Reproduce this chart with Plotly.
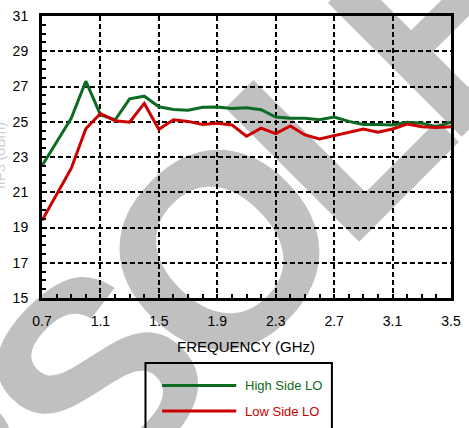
import math
import plotly.graph_objects as go

# Frequency sweep (GHz) and measured IIP3 (dBm)
freq_ghz = [0.7, 0.9, 1.0, 1.1, 1.2, 1.3, 1.4, 1.5, 1.6, 1.7, 1.8, 1.9, 2.0, 2.1,
            2.2, 2.3, 2.4, 2.5, 2.6, 2.7, 2.8, 2.9, 3.0, 3.1, 3.2, 3.3, 3.4, 3.5]
high_side_lo = [22.5, 25.2, 27.3, 25.4, 25.1, 26.3, 26.45, 25.85, 25.7, 25.65,
                25.82, 25.83, 25.75, 25.8, 25.68, 25.27, 25.2, 25.2, 25.12, 25.27,
                25.02, 24.84, 24.84, 24.82, 24.97, 24.91, 24.72, 24.97]
low_side_lo = [19.4, 22.35, 24.6, 25.47, 25.06, 24.97, 26.04, 24.57, 25.11, 25.02,
               24.84, 24.91, 24.82, 24.18, 24.64, 24.33, 24.76, 24.25, 24.02, 24.21,
               24.4, 24.59, 24.4, 24.59, 24.87, 24.72, 24.68, 24.72]

series_names = ["High Side LO", "Low Side LO"]
series_colors = ["#0b6b22", "#cc0000"]
x_title = "FREQUENCY (GHz)"
y_title = "IIP3 (dBm)"
watermark = "OBSOLETE"

W, H = 469, 428
ML, MR, MT, MB = 42, 8, 16, 130
PW, PH = W - ML - MR, H - MT - MB


def px(x):
    """pixel column -> paper x"""
    return (x - ML) / PW


def py(y):
    """pixel row (from top) -> paper y"""
    return (H - MB - y) / PH


fig = go.Figure()
for name, vals, col in zip(series_names, [high_side_lo, low_side_lo], series_colors):
    fig.add_trace(go.Scatter(x=freq_ghz, y=vals, name=name, mode="lines",
                             line=dict(color=col, width=3), showlegend=False))

font_family = "Liberation Sans, Arial, sans-serif"
shapes = []

# Diagonal watermark, set letter by letter (tight tracking) along a 45-degree
# baseline and drawn underneath the grid and the curves.
WM_SIZE = 275
WM_TRACK = -0.07
WM_ADV = {"O": 0.778, "B": 0.722, "S": 0.667, "L": 0.611, "E": 0.667, "T": 0.611}
wm_anchor_idx, wm_anchor_xy = 3, (205, 231)   # centre of the second "O"
centres, acc = [], 0.0
for ch in watermark:
    centres.append(acc + WM_ADV[ch] / 2)
    acc += WM_ADV[ch] + WM_TRACK
ux, uy = math.cos(math.radians(45)), -math.sin(math.radians(45))
for ch, c in zip(watermark, centres):
    d = (c - centres[wm_anchor_idx]) * WM_SIZE
    cx, cy = wm_anchor_xy[0] + d * ux, wm_anchor_xy[1] + d * uy
    shapes.append(dict(
        type="rect", xref="paper", yref="paper", layer="below",
        x0=px(cx) - 0.005, x1=px(cx) + 0.005, y0=py(cy) - 0.005, y1=py(cy) + 0.005,
        line=dict(width=0), fillcolor="rgba(0,0,0,0)",
        label=dict(text=ch, textangle=-45, textposition="middle center",
                   font=dict(size=WM_SIZE, color="#c0c0c0", family=font_family,
                             weight="bold"))))

# legend frame
shapes.append(dict(type="rect", xref="paper", yref="paper",
                   x0=px(148), x1=px(339), y0=py(440), y1=py(363),
                   line=dict(color="black", width=2), fillcolor="rgba(0,0,0,0)"))

annotations = [
    dict(text=x_title, xref="paper", yref="paper", x=px(251), y=py(346),
         showarrow=False, font=dict(size=15, color="black", family=font_family),
         xanchor="center", yanchor="middle"),
    dict(text=y_title, xref="paper", yref="paper", x=px(-1), y=py(156),
         showarrow=False, textangle=-90,
         font=dict(size=14, color="#cfcfcf", family=font_family),
         xanchor="center", yanchor="middle"),
]

legend_rows = [385.5, 411]
for name, col, row in zip(series_names, series_colors, legend_rows):
    shapes.append(dict(type="line", xref="paper", yref="paper",
                       x0=px(165), x1=px(241), y0=py(row), y1=py(row),
                       line=dict(color=col, width=3)))
    annotations.append(dict(text=name, xref="paper", yref="paper",
                            x=px(248), y=py(row), showarrow=False,
                            xanchor="left", yanchor="middle",
                            font=dict(size=13, color=col, family=font_family)))

fig.update_layout(
    width=W, height=H,
    margin=dict(l=ML, r=MR, t=MT, b=MB, pad=0),
    paper_bgcolor="white",
    plot_bgcolor="rgba(0,0,0,0)",
    font=dict(family=font_family, size=14, color="black"),
    shapes=shapes,
    annotations=annotations,
    showlegend=False,
)

fig.update_xaxes(
    range=[0.7, 3.5], tick0=0.7, dtick=0.4, tickformat=".1f",
    showline=True, linecolor="black", linewidth=3, mirror=True,
    ticks="inside", ticklen=4, tickwidth=2, tickcolor="black",
    showgrid=True, gridcolor="black", gridwidth=2, griddash="5px,3px",
    zeroline=False, ticklabelstandoff=8,
    tickfont=dict(size=14, color="black"),
    minor=dict(dtick=0.1, ticks="inside", ticklen=4, tickwidth=2,
               tickcolor="black", showgrid=False),
)
fig.update_yaxes(
    range=[15, 31], tick0=15, dtick=2,
    showline=True, linecolor="black", linewidth=3, mirror=True,
    ticks="inside", ticklen=4, tickwidth=2, tickcolor="black",
    showgrid=True, gridcolor="black", gridwidth=2, griddash="5px,3px",
    zeroline=False, ticklabelstandoff=8,
    tickfont=dict(size=14, color="black"),
    minor=dict(dtick=0.5, ticks="inside", ticklen=4, tickwidth=2,
               tickcolor="black", showgrid=False),
)

fig.write_html("out.html")
